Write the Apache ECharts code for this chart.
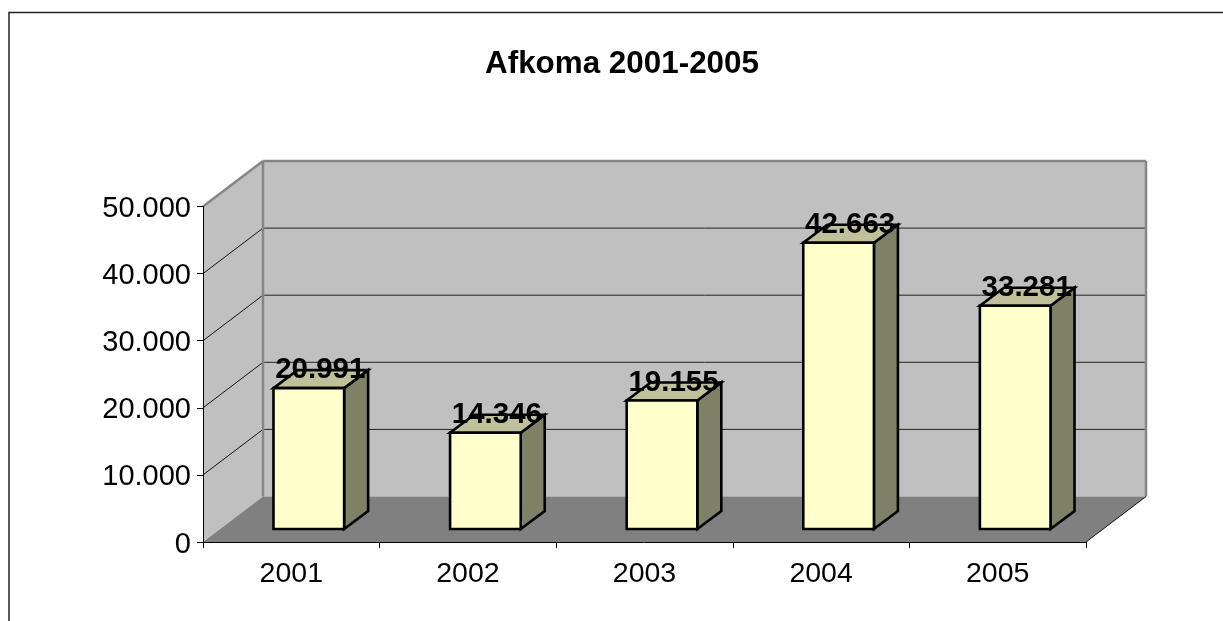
<!DOCTYPE html>
<html><head><meta charset="utf-8">
<style>html,body{margin:0;padding:0;background:#fff}#c{width:1223px;height:621px}</style>
<script src="https://cdn.jsdelivr.net/npm/echarts@6/dist/echarts.min.js"></script>
</head><body><div id="c"></div>
<script>
var titleText = 'Afkoma 2001-2005';
var categories = ['2001','2002','2003','2004','2005'];
var values = [20991,14346,19155,42663,33281];
var gridValues = [10000,20000,30000,40000];
var axisMax = 50000, axisStep = 10000;
var font = '"Liberation Sans", Arial, sans-serif';
var wallDX = 60, wallDY = -45.5, barDX = 17.5, barDY = -13, sideDX = 24, sideDY = -18;

function fmt(v){ return String(v).replace(/\B(?=(\d{3})+$)/g,'.'); }
function poly(points, fill, stroke, lw, z2){
  return {type:'polygon', z2:z2||0, shape:{points:points}, style:{fill:fill, stroke:stroke||null, lineWidth:lw||0, lineJoin:'miter'}};
}
function line(a,b,stroke,lw,z2){
  return {type:'line', z2:z2||0, shape:{x1:a[0],y1:a[1],x2:b[0],y2:b[1]}, style:{stroke:stroke,lineWidth:lw}};
}
function renderWalls(params, api){
  var step = api.size([1,0])[0];
  var x0 = api.coord([0,0])[0]-step/2, x1 = x0+step*categories.length;
  var y0 = api.coord([0,0])[1], yT = api.coord([0,axisMax])[1];
  var ch = [
    poly([[x0,y0],[x0+wallDX,y0+wallDY],[x0+wallDX,yT+wallDY],[x0,yT]],'#c0c0c0'),
    poly([[x0+wallDX,y0+wallDY],[x1+wallDX,y0+wallDY],[x1+wallDX,yT+wallDY],[x0+wallDX,yT+wallDY]],'#c0c0c0'),
    poly([[x0,y0],[x1,y0],[x1+wallDX,y0+wallDY],[x0+wallDX,y0+wallDY]],'#808080')
  ];
  gridValues.forEach(function(v){
    var y = api.coord([0,v])[1];
    ch.push(line([x0,y],[x0+wallDX,y+wallDY],'#111',1,1));
    ch.push(line([x0+wallDX,y+wallDY],[x1+wallDX,y+wallDY],'#222',1,1));
  });
  var g='#868686';
  ch.push(line([x0,yT],[x0+wallDX,yT+wallDY],g,2.5,2));
  ch.push(line([x0+wallDX,yT+wallDY],[x1+wallDX,yT+wallDY],g,2.5,2));
  ch.push(line([x0+wallDX,yT+wallDY],[x0+wallDX,y0+wallDY],g,2.5,2));
  ch.push(line([x1+wallDX,yT+wallDY],[x1+wallDX,y0+wallDY],g,2.5,2));
  ch.push(line([x1,y0],[x1+wallDX,y0+wallDY],'#111',1,3));
  return {type:'group', children:ch};
}
function renderBar(params, api){
  var p = api.coord([api.value(0),0]), t = api.coord([api.value(0),api.value(1)]);
  var w = api.size([1,0])[0]*0.4;
  var l = p[0]+barDX-w/2, r = l+w, b = p[1]+barDY, y = t[1]+barDY;
  var k='#000', lw=2.6;
  return {type:'group', children:[
    poly([[r,b],[r+sideDX,b+sideDY],[r+sideDX,y+sideDY],[r,y]],'#808066',k,lw),
    poly([[l,y],[r,y],[r+sideDX,y+sideDY],[l+sideDX,y+sideDY]],'#c0c09a',k,lw),
    poly([[l,b],[r,b],[r,y],[l,y]],'#ffffcc',k,lw)
  ]};
}
function renderLabel(params, api){
  var p = api.coord([api.value(0),0]), t = api.coord([api.value(0),api.value(1)]);
  return {type:'text', style:{text:fmt(api.value(1)), x:p[0]+barDX+sideDX/2-0.5, y:t[1]+barDY-3,
    align:'center', verticalAlign:'bottom', fill:'#000', font:'bold 29.5px '+font}};
}
var barData = values.map(function(v,i){return [i,v];});
var chart = echarts.init(document.getElementById('c'),null,{renderer:'canvas'});
chart.setOption({
  animation:false, backgroundColor:'#fff',
  title:{text:titleText,left:617,top:44,textAlign:'center',textStyle:{fontFamily:font,fontWeight:'bold',fontSize:31.4,color:'#000'}},
  grid:{left:203,top:206.5,width:883,height:335.5,containLabel:false},
  xAxis:{type:'category',data:categories,boundaryGap:true,z:1,
    axisLine:{show:true,lineStyle:{color:'#000',width:1}},
    axisTick:{show:true,alignWithLabel:false,length:6,lineStyle:{color:'#000',width:1}},
    axisLabel:{fontFamily:font,fontSize:28.5,color:'#000',margin:18},splitLine:{show:false}},
  yAxis:{type:'value',min:0,max:axisMax,interval:axisStep,z:1,
    axisLine:{show:true,lineStyle:{color:'#000',width:1}},
    axisTick:{show:true,length:6,lineStyle:{color:'#000',width:1}},
    axisLabel:{color:'#000',margin:12,
      formatter:function(v){return '{v|'+fmt(v)+'}';},
      rich:{v:{fontFamily:font,fontSize:29,color:'#000',padding:[5,0,0,0]}}},
    splitLine:{show:false}},
  graphic:[{type:'polyline',silent:true,shape:{points:[[9,621],[9,12.5],[1223,12.5]]},style:{stroke:'#222',lineWidth:1.5,fill:null}}],
  series:[
    {type:'custom',z:0,silent:true,clip:false,renderItem:renderWalls,data:[[0]],encode:{x:0}},
    {type:'custom',z:3,silent:true,clip:false,renderItem:renderBar,data:barData,encode:{x:0,y:1}},
    {type:'custom',z:4,silent:true,clip:false,renderItem:renderLabel,data:barData,encode:{x:0,y:1}}
  ]
});
</script></body></html>
